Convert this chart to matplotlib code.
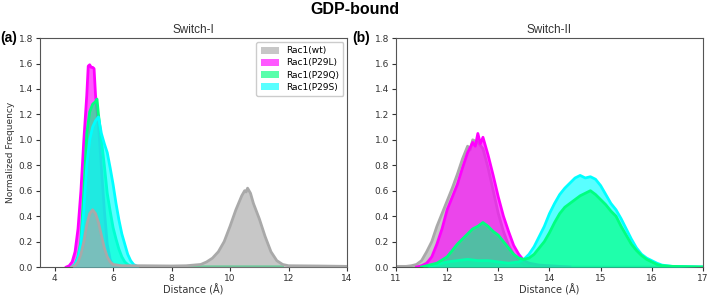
import numpy as np
import matplotlib.pyplot as plt
from matplotlib.patches import Patch

# ---- Switch-I (left panel) data ----
x1_wt = [4.6, 4.7, 4.8, 4.9, 5.0, 5.1, 5.2, 5.3, 5.4, 5.5, 5.6, 5.7, 5.8, 5.9, 6.0, 6.3, 7.0, 8.0, 8.5,
         9.0, 9.2, 9.4, 9.6, 9.8, 10.0, 10.2, 10.4, 10.5, 10.55, 10.6, 10.7, 10.8, 11.0, 11.2, 11.4, 11.6,
         11.8, 12.0, 13.0, 14.0]
y1_wt = [0.0, 0.01, 0.04, 0.1, 0.2, 0.33, 0.42, 0.45, 0.42, 0.35, 0.25, 0.15, 0.08, 0.04, 0.02, 0.01, 0.01,
         0.008, 0.01, 0.02, 0.04, 0.07, 0.12, 0.2, 0.32, 0.45, 0.56, 0.6, 0.59, 0.62, 0.58, 0.5, 0.38, 0.24,
         0.12, 0.05, 0.02, 0.01, 0.008, 0.005]

x1_l = [4.4, 4.5, 4.6, 4.7, 4.8, 4.9, 5.0, 5.1, 5.15, 5.2, 5.25, 5.3, 5.35, 5.4, 5.5, 5.6, 5.7, 5.8, 5.9,
        6.0, 6.1]
y1_l = [0.0, 0.01, 0.04, 0.12, 0.3, 0.6, 1.0, 1.35, 1.58, 1.59, 1.57, 1.57, 1.56, 1.35, 1.12, 0.78, 0.45,
        0.18, 0.06, 0.01, 0.0]

x1_q = [4.6, 4.7, 4.8, 4.9, 5.0, 5.1, 5.2, 5.3, 5.4, 5.45, 5.5, 5.6, 5.7, 5.8, 5.9, 6.0, 6.1, 6.2, 6.3,
        6.4, 6.5, 6.6, 6.7, 9.0, 10.0, 11.0, 11.8]
y1_q = [0.0, 0.02, 0.08, 0.2, 0.6, 1.05, 1.22, 1.28, 1.3, 1.32, 1.2, 1.0, 0.8, 0.58, 0.44, 0.31, 0.22,
        0.14, 0.08, 0.04, 0.02, 0.005, 0.0, 0.002, 0.002, 0.002, 0.002]

x1_s = [4.6, 4.7, 4.8, 4.9, 5.0, 5.1, 5.2, 5.3, 5.4, 5.5, 5.6, 5.7, 5.8, 5.9, 6.0, 6.1, 6.2, 6.3, 6.4,
        6.5, 6.6, 6.7, 6.8, 6.9]
y1_s = [0.0, 0.02, 0.07, 0.18, 0.45, 0.8, 1.0, 1.1, 1.15, 1.18, 1.05, 0.97, 0.9, 0.78, 0.65, 0.5, 0.37,
        0.26, 0.18, 0.1, 0.05, 0.02, 0.008, 0.0]

# ---- Switch-II (right panel) data ----
x2_wt = [11.0, 11.2, 11.3, 11.4, 11.5, 11.6, 11.7, 11.8, 11.9, 12.0, 12.1, 12.2, 12.3, 12.4, 12.45, 12.5,
         12.6, 12.7, 12.8, 12.9, 13.0, 13.1, 13.2, 13.3, 13.4, 13.5, 13.6, 13.8, 17.0]
y2_wt = [0.005, 0.005, 0.01, 0.02, 0.05, 0.12, 0.2, 0.32, 0.42, 0.52, 0.62, 0.73, 0.85, 0.95, 0.92, 1.0,
         0.98, 0.93, 0.78, 0.6, 0.42, 0.28, 0.17, 0.1, 0.05, 0.02, 0.01, 0.0, 0.0]

x2_l = [11.4, 11.5, 11.6, 11.7, 11.8, 11.9, 12.0, 12.1, 12.2, 12.3, 12.4, 12.5, 12.55, 12.6, 12.65, 12.7,
        12.8, 12.9, 13.0, 13.1, 13.2, 13.3, 13.4, 13.5, 13.6, 13.8, 14.0, 14.2, 14.4]
y2_l = [0.0, 0.01, 0.03, 0.08, 0.18, 0.3, 0.45, 0.55, 0.65, 0.78, 0.9, 0.98, 0.95, 1.05, 0.97, 1.02, 0.88,
        0.72, 0.55, 0.4, 0.28, 0.17, 0.1, 0.05, 0.03, 0.015, 0.01, 0.005, 0.0]

x2_q = [11.5, 11.6, 11.8, 12.0, 12.1, 12.2, 12.3, 12.4, 12.5, 12.6, 12.7, 12.8, 12.9, 13.0, 13.1, 13.2,
        13.3, 13.4, 13.5, 13.6, 13.7, 13.8, 13.9, 14.0, 14.1, 14.2, 14.3, 14.4, 14.5, 14.6, 14.7, 14.8,
        14.9, 15.0, 15.1, 15.2, 15.3, 15.4, 15.5, 15.6, 15.7, 15.8, 15.9, 16.0, 16.1, 16.2, 16.4, 17.0]
y2_q = [0.0, 0.01, 0.03, 0.08, 0.13, 0.18, 0.22, 0.26, 0.3, 0.32, 0.35, 0.32, 0.28, 0.25, 0.2, 0.15,
        0.1, 0.07, 0.06, 0.07, 0.1, 0.15, 0.2, 0.27, 0.35, 0.42, 0.47, 0.5, 0.53, 0.56, 0.58, 0.6,
        0.57, 0.53, 0.49, 0.44, 0.4, 0.32, 0.25, 0.18, 0.13, 0.09, 0.06, 0.04, 0.02, 0.01, 0.005, 0.0]

x2_s = [11.6, 11.7, 11.8, 11.9, 12.0, 12.2, 12.4, 12.6, 12.8, 13.0, 13.2, 13.4, 13.5, 13.6, 13.7, 13.8,
        13.9, 14.0, 14.1, 14.2, 14.3, 14.4, 14.5, 14.6, 14.7, 14.8, 14.9, 15.0, 15.1, 15.2, 15.3, 15.4,
        15.5, 15.6, 15.7, 15.8, 15.9, 16.0, 16.1, 16.2, 16.4, 17.0]
y2_s = [0.0, 0.01, 0.02, 0.03, 0.04, 0.05, 0.06, 0.05, 0.05, 0.04, 0.03, 0.04, 0.06, 0.1, 0.16, 0.24,
        0.32, 0.42, 0.5, 0.57, 0.62, 0.66, 0.7, 0.72, 0.7, 0.71, 0.69, 0.64, 0.57, 0.5, 0.45, 0.38,
        0.3, 0.22, 0.15, 0.1, 0.07, 0.05, 0.03, 0.015, 0.005, 0.0]

labels = ['Rac1(wt)', 'Rac1(P29L)', 'Rac1(P29Q)', 'Rac1(P29S)']
colors = ['darkgray', 'magenta', 'springgreen', 'cyan']

fig = plt.figure(figsize=(7.09, 2.95), dpi=100)
ax1 = fig.add_axes([0.0564, 0.0949, 0.433, 0.776])
ax2 = fig.add_axes([0.5585, 0.0949, 0.433, 0.776])


def draw(ax, x, y, c, z):
    ax.fill_between(x, y, 0, color=c, alpha=0.65, lw=0, zorder=z)
    ax.plot(x, y, color=c, lw=2, zorder=z + 0.5)


# left: magenta under, gray on top
draw(ax1, x1_l, y1_l, colors[1], 1)
draw(ax1, x1_q, y1_q, colors[2], 2)
draw(ax1, x1_s, y1_s, colors[3], 3)
draw(ax1, x1_wt, y1_wt, colors[0], 4)

# right: gray under, green on top
draw(ax2, x2_wt, y2_wt, colors[0], 1)
draw(ax2, x2_l, y2_l, colors[1], 2)
draw(ax2, x2_s, y2_s, colors[3], 3)
draw(ax2, x2_q, y2_q, colors[2], 4)

handles = [Patch(facecolor=c, alpha=0.65, edgecolor='none') for c in colors]
ax1.legend(handles, labels, loc='upper right', fontsize=6.5, handlelength=2.0,
           handleheight=0.8, borderpad=0.5, labelspacing=0.35, handletextpad=0.8,
           framealpha=1, borderaxespad=0.4)

for ax in (ax1, ax2):
    ax.set_ylim(0, 1.8)
    ax.set_yticks(np.arange(0, 1.81, 0.2))
    ax.tick_params(labelsize=6.5, length=3, width=0.8, pad=2, colors='#333333')
    ax.set_xlabel('Distance (Å)', fontsize=7, labelpad=1, color='#333333')
    for sp in ax.spines.values():
        sp.set_color('#555555')

ax1.set_xlim(3.5, 14)
ax1.set_xticks([4, 6, 8, 10, 12, 14])
ax2.set_xlim(11, 17)
ax2.set_xticks([11, 12, 13, 14, 15, 16, 17])
ax1.set_ylabel('Normalized Frequency', fontsize=6.5, labelpad=3, color='#333333')

ax1.set_title('Switch-I', fontsize=8.5, family='Liberation Sans', pad=4, color='#333333')
ax2.set_title('Switch-II', fontsize=8.5, family='Liberation Sans', pad=4, color='#333333')

fig.text(0.5, 0.968, 'GDP-bound', ha='center', va='center', fontsize=11.5,
         fontweight='bold', family='Liberation Sans')
fig.text(0.0, 0.872, '(a)', ha='left', va='center', fontsize=10, fontweight='bold',
         family='Liberation Sans')
fig.text(0.497, 0.872, '(b)', ha='left', va='center', fontsize=10, fontweight='bold',
         family='Liberation Sans')

fig.savefig('out.png', dpi=100)
